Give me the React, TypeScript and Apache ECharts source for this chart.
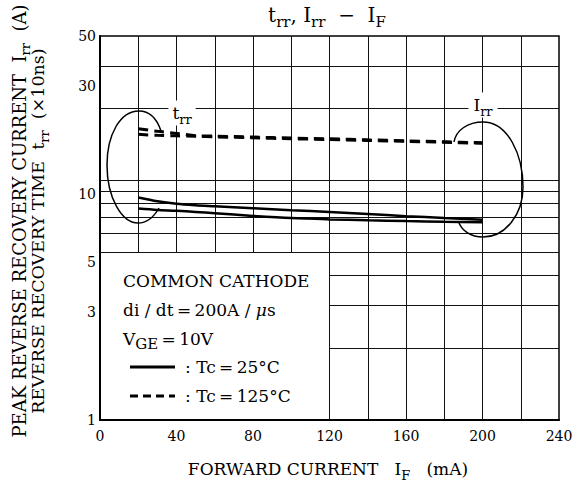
import React, { useEffect, useRef } from "react";
import * as echarts from "echarts";

// ---- data ----
const X_VALUES = [20, 30, 40, 50, 60, 80, 100, 120, 140, 160, 180, 200];
// reverse recovery time t_rr (x10ns), two dashed traces
const TRR_UPPER = [19.45, 18.93, 18.54, 18.12, 18.03, 17.86, 17.68, 17.54, 17.36, 17.19, 17.01, 16.84];
const TRR_LOWER = [18.36, 18.17, 18.08, 17.99, 17.9, 17.72, 17.55, 17.41, 17.25, 17.1, 16.93, 16.76];
// peak reverse recovery current I_rr (A), two solid traces
const IRR_UPPER = [9.64, 9.28, 9.05, 8.92, 8.83, 8.65, 8.48, 8.32, 8.15, 7.98, 7.83, 7.69];
const IRR_LOWER = [8.62, 8.5, 8.43, 8.33, 8.22, 8.0, 7.82, 7.72, 7.65, 7.59, 7.54, 7.5];

const X_MIN = 0;
const X_MAX = 240;
const X_INTERVAL = 40;
const Y_MIN = 1;
const Y_MAX = 50;
const Y_TICK_LABELS = [1, 3, 5, 10, 30, 50];

// printed grid of the datasheet (its own log ruling, 1..40)
const GRID_Y_MAX = 40;
const GRID_H_FULL = [5, 6, 7, 8, 9, 10, 20, 30];
const GRID_H_PARTIAL = [2, 3, 4];
const GRID_V_SHORT = [20, 40, 60, 80, 100];
const GRID_V_FULL = [120, 140, 160, 180, 200, 220];
const LEGEND_BOX_X = 120;
const LEGEND_BOX_Y = 5;

const SERIF = '"DejaVu Serif", "Liberation Serif", serif';
const TS = "\u2009";

const LEFT_LOOP =
  "M161,131 C158,122 152,111 139,111 C120,111 107,135 107,165 C107,198 122,223 138,223 C148,223 155,215 159,208";
const RIGHT_LOOP =
  "M454,142 C456,130 468,122 483,122 C508,122 523,155 523,187 C523,215 505,237 483,237 C470,237 462,230 459,223";

echarts.graphic.registerShape("leftLoop", echarts.graphic.extendPath(LEFT_LOOP, {}));
echarts.graphic.registerShape("rightLoop", echarts.graphic.extendPath(RIGHT_LOOP, {}));

function pairs(xs: number[], ys: number[]) {
  return xs.map((x, i) => [x, ys[i]]);
}

function richSet(n: number, s: number) {
  return {
    n: { fontSize: n, fontFamily: SERIF, lineHeight: n + 8, fill: "#000", color: "#000" },
    s: { fontSize: s, fontFamily: SERIF, lineHeight: s, verticalAlign: "bottom", fill: "#000", color: "#000" },
    i: { fontSize: n, fontFamily: SERIF, fontStyle: "italic", lineHeight: n + 8, fill: "#000", color: "#000" },
  };
}

export default function App() {
  const ref = useRef<HTMLDivElement>(null);

  useEffect(() => {
    if (!ref.current) return;
    const chart = echarts.init(ref.current, null, { renderer: "svg" });

    const gridLines: any[] = [];
    GRID_H_FULL.forEach((v) => gridLines.push([{ coord: [X_MIN, v] }, { coord: [X_MAX, v] }]));
    GRID_H_PARTIAL.forEach((v) => gridLines.push([{ coord: [LEGEND_BOX_X, v] }, { coord: [X_MAX, v] }]));
    GRID_V_SHORT.forEach((v) => gridLines.push([{ coord: [v, LEGEND_BOX_Y] }, { coord: [v, GRID_Y_MAX] }]));
    GRID_V_FULL.forEach((v) => gridLines.push([{ coord: [v, Y_MIN] }, { coord: [v, GRID_Y_MAX] }]));

    const lineSeries = (name: string, ys: number[], dashed: boolean) => ({
      name,
      type: "line",
      xAxisIndex: 0,
      yAxisIndex: 0,
      data: pairs(X_VALUES, ys),
      smooth: 0.3,
      symbol: "none",
      z: 5,
      lineStyle: dashed
        ? { color: "#000", width: 3, type: [10, 6] }
        : { color: "#000", width: 2.5, type: "solid" },
    });

    const option: any = {
      animation: false,
      grid: {
        left: 100,
        top: 36,
        width: 459,
        height: 384,
        show: true,
        borderColor: "#000",
        borderWidth: 1.5,
        backgroundColor: "transparent",
      },
      xAxis: {
        type: "value",
        min: X_MIN,
        max: X_MAX,
        interval: X_INTERVAL,
        splitLine: { show: false },
        axisTick: { show: false },
        axisLine: { lineStyle: { color: "#000", width: 2 } },
        axisLabel: { color: "#000", fontSize: 14, fontFamily: SERIF, margin: 9 },
      },
      yAxis: [
        {
          type: "log",
          logBase: 10,
          min: Y_MIN,
          max: Y_MAX,
          splitLine: { show: false },
          minorSplitLine: { show: false },
          axisTick: { show: false },
          axisLine: { show: true, lineStyle: { color: "#000", width: 2 } },
          axisLabel: {
            customValues: Y_TICK_LABELS,
            color: "#000",
            fontSize: 14,
            fontFamily: SERIF,
            margin: 4,
            formatter: (v: number) => String(Math.round(v)),
          },
        },
        {
          type: "log",
          logBase: 10,
          min: Y_MIN,
          max: GRID_Y_MAX,
          show: false,
          splitLine: { show: false },
        },
      ],
      series: [
        {
          name: "grid",
          type: "line",
          xAxisIndex: 0,
          yAxisIndex: 1,
          data: [],
          z: 1,
          markLine: {
            silent: true,
            symbol: ["none", "none"],
            label: { show: false },
            emphasis: { disabled: true },
            lineStyle: { color: "#111", width: 1, type: "solid" },
            data: gridLines,
          },
        },
        lineSeries("trr upper", TRR_UPPER, true),
        lineSeries("trr lower", TRR_LOWER, true),
        lineSeries("Irr upper", IRR_UPPER, false),
        lineSeries("Irr lower", IRR_LOWER, false),
      ],
      graphic: [
        {
          type: "text",
          x: 327,
          y: 15,
          z: 100,
          style: {
            text: "{n|t}{s|rr}{n|, I}{s|rr}{n|  −  I}{s|F}",
            rich: richSet(20, 15),
            align: "center",
            verticalAlign: "middle",
          },
        },
        {
          type: "text",
          x: 19,
          y: 221,
          rotation: Math.PI / 2,
          z: 100,
          style: {
            text: "{n|PEAK REVERSE RECOVERY CURRENT  I}{s|rr}{n|  (A)}",
            rich: richSet(18, 13),
            align: "center",
            verticalAlign: "middle",
          },
        },
        {
          type: "text",
          x: 38,
          y: 231,
          rotation: Math.PI / 2,
          z: 100,
          style: {
            text: "{n|REVERSE RECOVERY TIME  t}{s|rr}{n|  (×10ns)}",
            rich: richSet(17.5, 13),
            align: "center",
            verticalAlign: "middle",
          },
        },
        {
          type: "text",
          x: 328,
          y: 469,
          z: 100,
          style: {
            text: "{n|FORWARD CURRENT   I}{s|F}{n|   (mA)}",
            rich: richSet(17, 13),
            align: "center",
            verticalAlign: "middle",
          },
        },
        {
          type: "text",
          x: 182,
          y: 113,
          z: 100,
          style: {
            text: "{n|t}{s|rr}",
            rich: richSet(17, 13),
            align: "center",
            verticalAlign: "middle",
            backgroundColor: "#fff",
            padding: [0, 4],
          },
        },
        {
          type: "text",
          x: 483,
          y: 105,
          z: 100,
          style: {
            text: "{n|I}{s|rr}",
            rich: richSet(17, 13),
            align: "center",
            verticalAlign: "middle",
            backgroundColor: "#fff",
            padding: [0, 5],
          },
        },
        { type: "leftLoop", x: 0, y: 0, z: 90, style: { fill: "none", stroke: "#000", lineWidth: 1.5 } },
        { type: "rightLoop", x: 0, y: 0, z: 90, style: { fill: "none", stroke: "#000", lineWidth: 1.5 } },
        {
          type: "text",
          x: 123,
          y: 281,
          z: 100,
          style: { text: "COMMON CATHODE", font: `17px ${SERIF}`, fill: "#000", verticalAlign: "middle" },
        },
        {
          type: "text",
          x: 123,
          y: 310,
          z: 100,
          style: {
            text: `{n|di / dt${TS}=${TS}200A / }{i|μ}{n|s}`,
            rich: richSet(17, 13),
            verticalAlign: "middle",
          },
        },
        {
          type: "text",
          x: 123,
          y: 339,
          z: 100,
          style: {
            text: `{n|V}{s|GE}{n|${TS}=${TS}10V}`,
            rich: richSet(17, 15),
            verticalAlign: "middle",
          },
        },
        {
          type: "line",
          z: 100,
          shape: { x1: 130, y1: 367, x2: 175, y2: 367 },
          style: { stroke: "#000", lineWidth: 3 },
        },
        {
          type: "text",
          x: 185,
          y: 367,
          z: 100,
          style: { text: `: Tc${TS}=${TS}25°C`, font: `17px ${SERIF}`, fill: "#000", verticalAlign: "middle" },
        },
        {
          type: "line",
          z: 100,
          shape: { x1: 130, y1: 396, x2: 175, y2: 396 },
          style: { stroke: "#000", lineWidth: 3, lineDash: [8, 5] },
        },
        {
          type: "text",
          x: 185,
          y: 396,
          z: 100,
          style: { text: `: Tc${TS}=${TS}125°C`, font: `17px ${SERIF}`, fill: "#000", verticalAlign: "middle" },
        },
      ],
    };

    chart.setOption(option);
    return () => chart.dispose();
  }, []);

  return (
    <div
      ref={ref}
      style={{ position: "fixed", left: 0, top: 0, width: 583, height: 485, background: "#fff" }}
    />
  );
}
